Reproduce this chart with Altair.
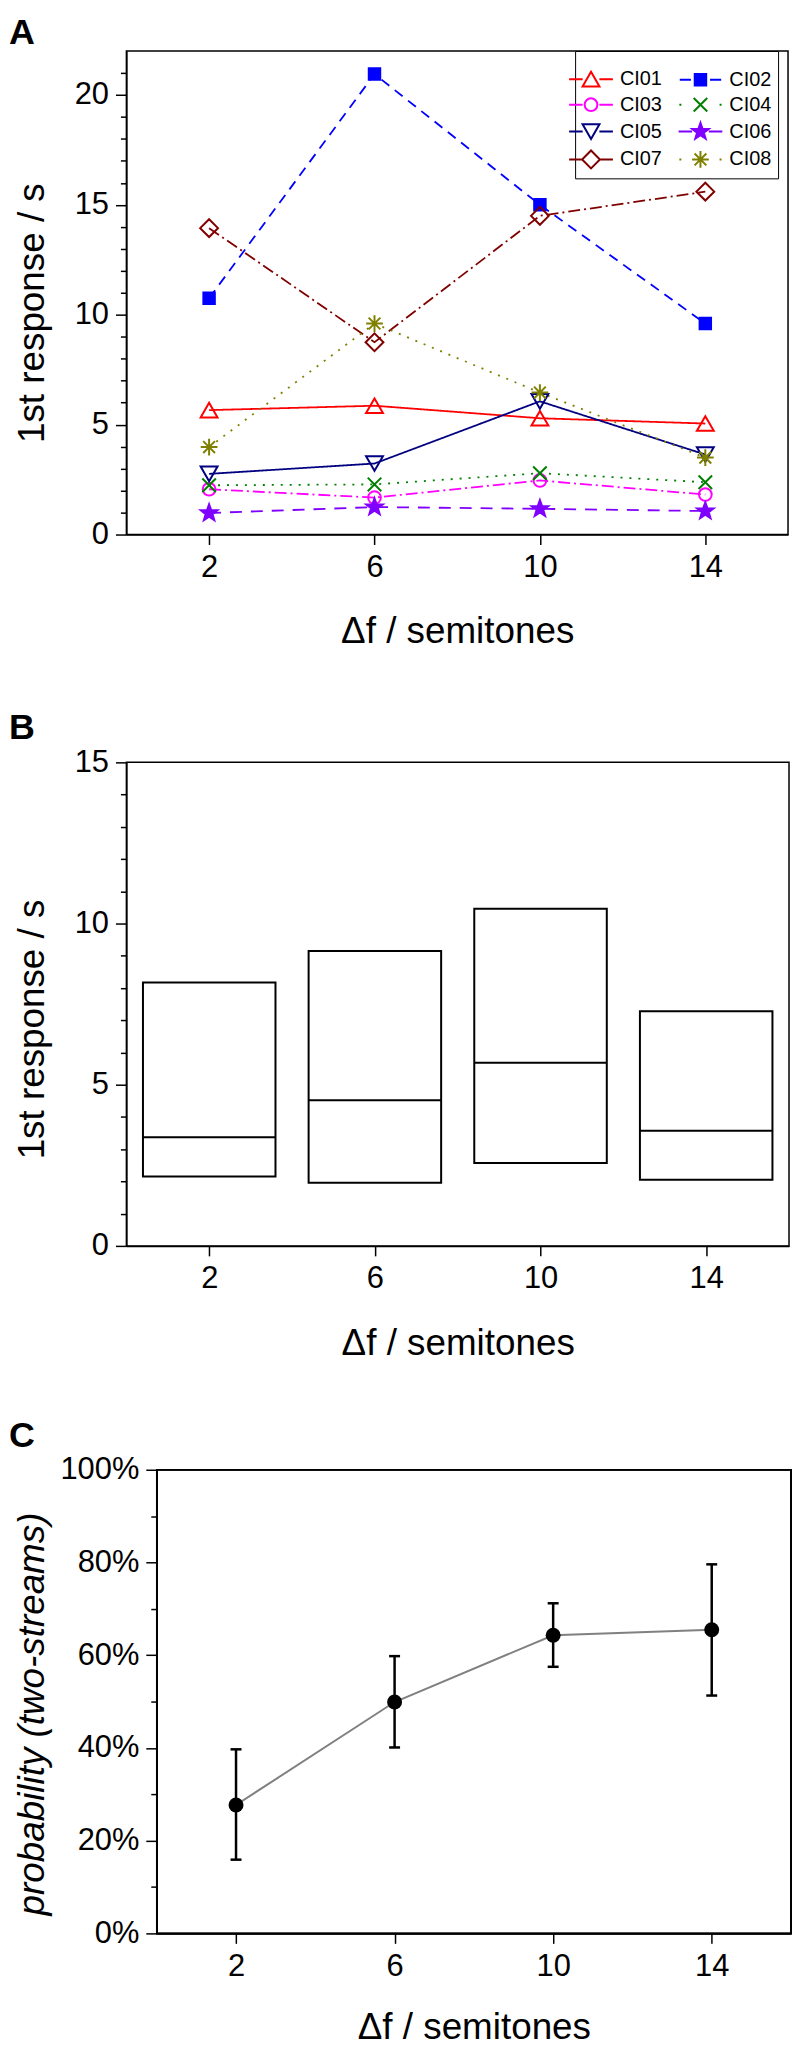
import altair as alt
import pandas as pd

# ---------------- data ----------------
delta_f = [2, 6, 10, 14]
series = ["CI01", "CI02", "CI03", "CI04", "CI05", "CI06", "CI07", "CI08"]
ci01 = [5.66, 5.86, 5.29, 5.05]
ci02 = [10.75, 20.95, 15.0, 9.6]
ci03 = [2.06, 1.68, 2.46, 1.82]
ci04 = [2.24, 2.28, 2.79, 2.38]
ci05 = [2.76, 3.23, 6.06, 3.64]
ci06 = [0.98, 1.25, 1.17, 1.07]
ci07 = [13.94, 8.75, 14.5, 15.6]
ci08 = [3.98, 9.6, 6.46, 3.5]

box_q1 = [2.15, 1.96, 2.57, 2.05]
box_median = [3.37, 4.52, 5.68, 3.57]
box_q3 = [8.17, 9.15, 10.46, 7.28]

prob_mean = [0.277, 0.499, 0.643, 0.655]
prob_lo = [0.159, 0.401, 0.575, 0.513]
prob_hi = [0.397, 0.598, 0.712, 0.796]

# ---------------- styles ----------------
FONT = "Liberation Sans"
colors = ["#FF0000", "#0000FF", "#FF00FF", "#008000", "#000080", "#7F00FF", "#800000", "#808000"]
dashes = [[1, 0], [10, 7], [12, 4, 2, 4], [2, 7], [1, 0], [12, 9], [12, 4, 2, 4], [2, 7]]
fills = ["transparent", "#0000FF", "transparent", "transparent", "transparent", "#7F00FF", "transparent", "transparent"]

TRI_UP = "M0,-0.92L1.06,0.92L-1.06,0.92Z"
SQUARE = "M-0.72,-0.72H0.72V0.72H-0.72Z"
CIRCLE = "M-0.8,0A0.8,0.8 0 1,0 0.8,0A0.8,0.8 0 1,0 -0.8,0Z"
XMARK = "M-0.85,-0.85L0.85,0.85M-0.85,0.85L0.85,-0.85"
TRI_DN = "M0,0.92L1.06,-0.92L-1.06,-0.92Z"
STAR = "M0,-1.1L0.26,-0.36L1.05,-0.34L0.43,0.14L0.65,0.89L0,0.45L-0.65,0.89L-0.43,0.14L-1.05,-0.34L-0.26,-0.36Z"
DIAMOND = "M-1.12,0L0,-1.12L1.12,0L0,1.12Z"
ASTER = "M-1.05,0H1.05M0,-1.05V1.05M-0.74,-0.74L0.74,0.74M-0.74,0.74L0.74,-0.74"
marker_shapes = [TRI_UP, SQUARE, CIRCLE, XMARK, TRI_DN, STAR, DIAMOND, ASTER]

SOLID_SEG = "M-2.75,0H-1.05M1.05,0H2.75"
DASH_SEG = "M-2.6,0H-1.2M1.2,0H2.6"
DOT_SEG = "M-2.65,0H-2.4M2.4,0H2.65"
legend_shapes = [
    TRI_UP + SOLID_SEG, SQUARE + DASH_SEG, CIRCLE + SOLID_SEG, XMARK + DOT_SEG,
    TRI_DN + SOLID_SEG, STAR + SOLID_SEG, DIAMOND + SOLID_SEG, ASTER + DOT_SEG,
]
# legend fills column by column: odd entries left column, even entries right column
leg_idx = [0, 2, 4, 6, 1, 3, 5, 7]
leg_domain = [series[i] for i in leg_idx]
leg_shapes = [legend_shapes[i] for i in leg_idx]
leg_fills = [fills[i] for i in leg_idx]
leg_colors = [colors[i] for i in leg_idx]

TICK_FS = 31
TITLE_FS = 37

# ---------------- panel A ----------------
all_series = [ci01, ci02, ci03, ci04, ci05, ci06, ci07, ci08]
rows = []
for name, vals in zip(series, all_series):
    for d, v in zip(delta_f, vals):
        rows.append({"series": name, "df": d, "value": v})
dfA = pd.DataFrame(rows)

XTITLE = "Δf / semitones"


def x_axis(ty=80):
    return alt.Axis(values=delta_f, title=XTITLE, tickSize=10, labelPadding=8,
                    titleY=ty, labelOverlap=False)


def y_axis(vals, major_test, title, tx, ty, fmt=None, style="normal", offset=0):
    kw = dict(values=vals, title=title, titleX=tx, titleY=ty, titleFontStyle=style,
              labelExpr=f"({major_test}) ? datum.label : ''",
              tickSize={"condition": {"test": major_test, "value": 11}, "value": 6},
              labelPadding=7, labelOverlap=False, offset=offset)
    if fmt:
        kw["format"] = fmt
    return alt.Axis(**kw)


xA = alt.X("df:Q", scale=alt.Scale(domain=[0, 16], nice=False, zero=False), axis=x_axis())
yA = alt.Y("value:Q", scale=alt.Scale(domain=[0, 22], nice=False),
           axis=y_axis(list(range(0, 22)), "datum.value % 5 === 0", "1st response / s", -75, 263))

lines = alt.Chart(dfA).mark_line(strokeWidth=1.8).encode(
    x=xA, y=yA,
    color=alt.Color("series:N", scale=alt.Scale(domain=series, range=colors), legend=None),
    strokeDash=alt.StrokeDash("series:N", scale=alt.Scale(domain=series, range=dashes), legend=None),
)
points = alt.Chart(dfA).mark_point(filled=True, strokeWidth=2, opacity=1, size=256).encode(
    x=xA, y=yA,
    shape=alt.Shape("series:N", scale=alt.Scale(domain=series, range=marker_shapes), legend=None),
    fill=alt.Fill("series:N", scale=alt.Scale(domain=series, range=fills), legend=None),
    stroke=alt.Stroke("series:N", scale=alt.Scale(domain=series, range=colors), legend=None),
)
leg = alt.Legend(title=" ", orient="none", legendX=451, legendY=0, columns=2)
legend_layer = alt.Chart(dfA).transform_filter("false").mark_point(
    filled=True, strokeWidth=2, opacity=1, size=256
).encode(
    x=xA, y=yA,
    shape=alt.Shape("series:N", scale=alt.Scale(domain=leg_domain, range=leg_shapes), legend=leg),
    fill=alt.Fill("series:N", scale=alt.Scale(domain=leg_domain, range=leg_fills), legend=leg),
    stroke=alt.Stroke("series:N", scale=alt.Scale(domain=leg_domain, range=leg_colors), legend=leg),
)

panelA = alt.layer(lines, points, legend_layer).resolve_scale(
    shape="independent", fill="independent", stroke="independent"
).properties(
    width=665, height=486,
    title=alt.TitleParams("A", anchor="start", frame="group", dx=-118, offset=-1),
)

# ---------------- panel B ----------------
dfB = pd.DataFrame({"df": delta_f, "q1": box_q1, "med": box_median, "q3": box_q3})
baseB = alt.Chart(dfB).transform_calculate(lo="datum.df - 1.6", hi="datum.df + 1.6")
xB = alt.X("lo:Q", scale=alt.Scale(domain=[0, 16], nice=False, zero=False), axis=x_axis())
yaxB = y_axis(list(range(0, 16)), "datum.value % 5 === 0", "1st response / s", -75, 268)
yB = alt.Y("q1:Q", scale=alt.Scale(domain=[0, 15], nice=False), axis=yaxB)
boxes = baseB.mark_rect(fillOpacity=0, stroke="black", strokeWidth=2).encode(
    x=xB, x2="hi:Q", y=yB, y2="q3:Q")
meds = baseB.mark_rule(color="black", strokeWidth=2).encode(
    x=xB, x2="hi:Q", y=alt.Y("med:Q", scale=alt.Scale(domain=[0, 15], nice=False), axis=yaxB))
panelB = alt.layer(boxes, meds).properties(
    width=666, height=486,
    title=alt.TitleParams("B", anchor="start", frame="group", dx=-118, offset=-1),
)

# ---------------- panel C ----------------
# panel C's frame starts 30.5 px right of the frames of A and B
C_SHIFT = 30.5
C_W = 668
dfC = pd.DataFrame({"df": delta_f, "p": prob_mean, "lo": prob_lo, "hi": prob_hi})
xscC = alt.Scale(domain=[0, 16], nice=False, zero=False, range=[C_SHIFT, C_W])
yscC = alt.Scale(domain=[0, 1], nice=False)
xC = alt.X("df:Q", scale=xscC, axis=x_axis(77))
yC = alt.Y("p:Q", scale=yscC,
           axis=y_axis([i / 10 for i in range(11)], "round(datum.value * 100) % 20 === 0",
                       "probability (two-streams)", -105.7, 245, fmt=".0%", style="italic",
                       offset=-C_SHIFT))
baseC = alt.Chart(dfC)
frameC = baseC.mark_rect(fillOpacity=0, stroke="black", strokeWidth=1.5).encode(
    x=alt.datum(0, scale=xscC), x2=alt.datum(16), y=alt.datum(0, scale=yscC), y2=alt.datum(1))
lineC = baseC.mark_line(color="#808080", strokeWidth=2).encode(x=xC, y=yC)
errC = baseC.mark_rule(color="black", strokeWidth=2.5).encode(x=xC, y=alt.Y("lo:Q"), y2="hi:Q")
capLo = baseC.mark_tick(color="black", thickness=2.5, size=11, orient="horizontal", opacity=1).encode(
    x=xC, y=alt.Y("lo:Q"))
capHi = baseC.mark_tick(color="black", thickness=2.5, size=11, orient="horizontal", opacity=1).encode(
    x=xC, y=alt.Y("hi:Q"))
ptsC = baseC.mark_circle(color="black", size=225, opacity=1).encode(x=xC, y=yC)
panelC = alt.layer(lineC, errC, capLo, capHi, ptsC, frameC, view=alt.ViewBackground(strokeOpacity=0)).properties(
    width=C_W, height=466,
    title=alt.TitleParams("C", anchor="start", frame="group", dx=-118, offset=-1),
)

top = alt.concat(panelA, panelB, columns=1, spacing=59)
chart = alt.concat(top, panelC, columns=1, spacing=56,
                   padding=0, background="white").configure_view(
    stroke="black", strokeWidth=1.5
).configure_axis(
    domainColor="black", domainWidth=1.5, tickColor="black", tickWidth=1.5,
    labelFont=FONT, labelFontSize=TICK_FS, labelColor="black",
    titleFont=FONT, titleFontSize=TITLE_FS, titleFontWeight="normal", titleColor="black",
    grid=False,
).configure_legend(
    labelFont=FONT, labelFontSize=20, labelColor="black",
    titleFontSize=8, titlePadding=4, padding=6,
    strokeColor="black", fillColor="white",
    symbolSize=256, symbolStrokeWidth=2, labelOffset=19, columnPadding=12, rowPadding=3,
).configure_title(
    font=FONT, fontSize=36, fontWeight="bold", color="black",
)

chart.save("out.html", embed_options={"renderer": "svg", "actions": False})
